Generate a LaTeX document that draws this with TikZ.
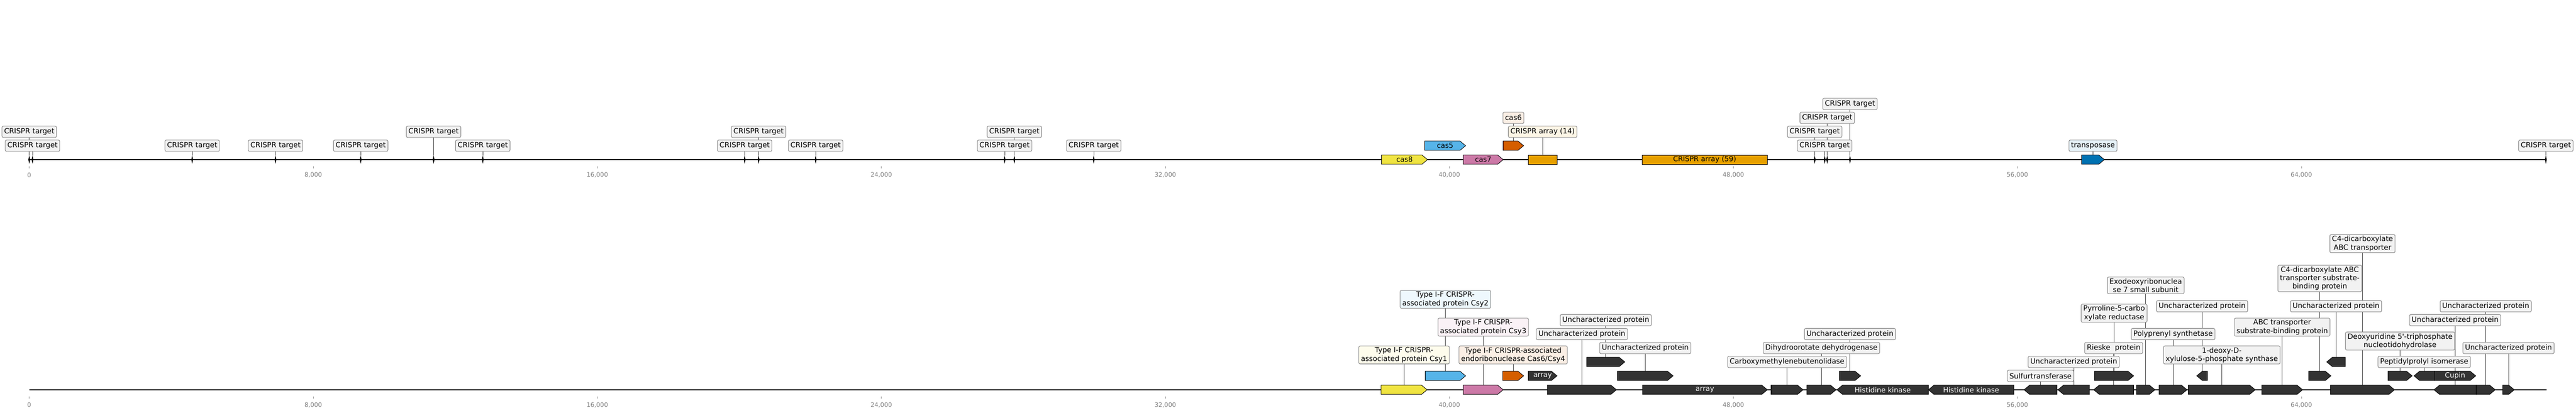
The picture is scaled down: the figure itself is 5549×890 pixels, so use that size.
\documentclass[tikz,border=0pt]{standalone}
\usepackage{fontspec}
\setmainfont{DejaVu Sans}
\usetikzlibrary{backgrounds}
\definecolor{casyellow}{HTML}{F0E442}
\definecolor{cassky}{HTML}{56B4E9}
\definecolor{caspink}{HTML}{CC79A7}
\definecolor{casverm}{HTML}{D55E00}
\definecolor{casorange}{HTML}{E69F00}
\definecolor{casblue}{HTML}{0072B2}
\definecolor{genedark}{HTML}{333333}
\definecolor{boxgray}{HTML}{F2F2F2}
\tikzset{
    box_node/.style = {draw=black!45, line width=0.6pt, rounded corners=1.5pt, fill=#1, inner xsep=2.3pt, inner ysep=1.5pt, align=center, minimum height=12.2pt, font=\fontsize{7.75}{9}\selectfont},
    box_node/.default = boxgray,
    gene/.style = {draw=black, line width=0.5pt},
    gene_text/.style = {inner sep=0pt, font=\fontsize{7.6}{9}\selectfont},
    white_text/.style = {gene_text, text=white},
    link/.style = {draw=black!75, line width=0.45pt},
    axis_line/.style = {line width=1pt},
    tick_mark/.style = {draw=black!45, line width=0.4pt},
    tick_text/.style = {text=black!50, inner sep=0pt, font=\fontsize{6.6}{7}\selectfont}
}
% gene arrows: name, start, end, level y, fill
\newcommand{\fwdgene}[5]{%
    \draw[gene, fill=#5] (#2,{#4-10}) -- ({#3-12},{#4-10}) -- (#3,#4) -- ({#3-12},{#4+10}) -- (#2,{#4+10}) -- cycle;
    \coordinate (#1) at ({(#2+#3)/2},{#4-10});
    \coordinate (#1_c) at ({(#2+#3)/2},#4);}
\newcommand{\revgene}[5]{%
    \draw[gene, fill=#5] (#3,{#4-10}) -- ({#2+12},{#4-10}) -- (#2,#4) -- ({#2+12},{#4+10}) -- (#3,{#4+10}) -- cycle;
    \coordinate (#1) at ({(#2+#3)/2},{#4-10});
    \coordinate (#1_c) at ({(#2+#3)/2},#4);}
\newcommand{\blockgene}[5]{%
    \draw[gene, fill=#5] (#2,{#4-10}) rectangle (#3,{#4+10});
    \coordinate (#1) at ({(#2+#3)/2},{#4-10});
    \coordinate (#1_c) at ({(#2+#3)/2},#4);}
\newcommand{\crisprmark}[2]{%
    \fill (#2,335) -- ({#2+2},344) -- (#2,353) -- ({#2-2},344) -- cycle;
    \coordinate (#1) at (#2,335);}

\begin{document}
\begin{tikzpicture}[x=0.5pt, y=-0.5pt]
\useasboundingbox (0,0) rectangle (5549,890);

% axes and ruler
\draw[axis_line] (63,344) -- (5484,344);
\draw[axis_line] (63,840) -- (5486,840);
\foreach \i/\t in {0/0, 1/{8,000}, 2/{16,000}, 3/{24,000}, 4/{32,000}, 5/{40,000}, 6/{48,000}, 7/{56,000}, 8/{64,000}} {
    \draw[tick_mark] ({63+611.8*\i},358) -- ++(0,5);
    \node[tick_text] (ta\i) at ({63+611.8*\i},377) {\t};
    \draw[tick_mark] ({63+611.8*\i},854) -- ++(0,5);
    \node[tick_text] (tb\i) at ({63+611.8*\i},873) {\t};
}

% top track
\foreach \x/\y [count=\n] in {63/284, 70/314, 414/314, 593.5/314, 777/314, 934/284, 1040/314, 1604/314, 1634/284, 1757/314, 2164/314, 2185/284, 2356/314, 3909/284, 3930.5/314, 3936/254, 3985/224, 5484/314} {
    \crisprmark{tg\n}{\x}
    \node[box_node] (tl\n) at (\x,\y) {CRISPR target};
    \begin{scope}[on background layer]
        \draw[link] (tg\n) -- (tg\n |- tl\n.south);
    \end{scope}
}
\fwdgene{cas8}{2976}{3075}{344}{casyellow}
\node[gene_text] (cas8_t) at (cas8_c) {cas8};
\fwdgene{cas5}{3069}{3157}{314}{cassky}
\node[gene_text] (cas5_t) at (cas5_c) {cas5};
\fwdgene{cas7}{3152}{3238}{344}{caspink}
\node[gene_text] (cas7_t) at (cas7_c) {cas7};
\fwdgene{cas6}{3238}{3282}{314}{casverm}
\blockgene{arr14}{3292}{3354}{344}{casorange}
\blockgene{arr59}{3537}{3807}{344}{casorange}
\node[gene_text] (arr59_t) at (arr59_c) {CRISPR array (59)};
\fwdgene{tnp}{4484}{4533}{344}{casblue}
\node[box_node=casverm!10] (cas6_l) at (cas6 |- 0,254) {cas6};
\node[box_node=casorange!10] (arr14_l) at (arr14 |- 0,284) {CRISPR array (14)};
\node[box_node=casblue!10] (tnp_l) at (tnp |- 0,314) {transposase};

% bottom track
\fwdgene{g1}{2975}{3074}{840}{casyellow}
\fwdgene{g2}{3070}{3157}{810}{cassky}
\fwdgene{g3}{3152}{3238}{840}{caspink}
\fwdgene{g4}{3237}{3282}{810}{casverm}
\fwdgene{g5}{3292}{3354}{810}{genedark}
\node[white_text] (g5_t) at (g5_c) {array};
\fwdgene{g6}{3333}{3482}{840}{genedark}
\fwdgene{g7}{3418}{3500}{780}{genedark}
\fwdgene{g8}{3484}{3604}{810}{genedark}
\fwdgene{g9}{3538}{3807}{840}{genedark}
\node[white_text] (g9_t) at (g9_c) {array};
\fwdgene{g10}{3815}{3884}{840}{genedark}
\fwdgene{g11}{3892}{3955}{840}{genedark}
\fwdgene{g12}{3962}{4008}{810}{genedark}
\revgene{g13}{3957}{4154}{840}{genedark}
\node[white_text] (g13_t) at (g13_c) {Histidine kinase};
\revgene{g14}{4154}{4338}{840}{genedark}
\node[white_text] (g14_t) at (g14_c) {Histidine kinase};
\revgene{g15}{4360}{4431}{840}{genedark}
\revgene{g16}{4433}{4501}{840}{genedark}
\revgene{g17}{4510}{4596}{840}{genedark}
\fwdgene{g18}{4512}{4596}{810}{genedark}
\fwdgene{g19}{4602}{4642}{840}{genedark}
\fwdgene{g20}{4651}{4711}{840}{genedark}
\revgene{g21}{4732}{4755}{810}{genedark}
\fwdgene{g22}{4714}{4858}{840}{genedark}
\fwdgene{g23}{4872}{4960}{840}{genedark}
\fwdgene{g24}{4973}{5021}{810}{genedark}
\revgene{g25}{5012}{5052}{780}{genedark}
\fwdgene{g26}{5020}{5158}{840}{genedark}
\fwdgene{g27}{5144}{5196}{810}{genedark}
\revgene{g28}{5200}{5244}{810}{genedark}
\fwdgene{g29}{5244}{5333}{810}{genedark}
\node[white_text] (g29_t) at (g29_c) {Cupin};
\revgene{g30}{5243}{5334}{840}{genedark}
\fwdgene{g31}{5334}{5375}{840}{genedark}
\fwdgene{g32}{5391}{5416}{840}{genedark}

\node[box_node=casyellow!10] (l1) at (g1 |- 0,765) {Type I-F CRISPR-\\associated protein Csy1};
\node[box_node=cassky!10] (l2) at (g2 |- 0,645) {Type I-F CRISPR-\\associated protein Csy2};
\node[box_node=caspink!10] (l3) at (g3 |- 0,705) {Type I-F CRISPR-\\associated protein Csy3};
\node[box_node=casverm!10] (l4) at (g4 |- 0,765) {Type I-F CRISPR-associated\\endoribonuclease Cas6/Csy4};
\node[box_node] (l6) at (g6 |- 0,720) {Uncharacterized protein};
\node[box_node] (l7) at (g7 |- 0,690) {Uncharacterized protein};
\node[box_node] (l8) at (g8 |- 0,750) {Uncharacterized protein};
\node[box_node] (l10) at (g10 |- 0,780) {Carboxymethylenebutenolidase};
\node[box_node] (l11) at (g11 |- 0,750) {Dihydroorotate dehydrogenase};
\node[box_node] (l12) at (g12 |- 0,720) {Uncharacterized protein};
\node[box_node] (l15) at (g15 |- 0,810) {Sulfurtransferase};
\node[box_node] (l16) at (g16 |- 0,780) {Uncharacterized protein};
\node[box_node] (l17) at (g17 |- 0,750) {Rieske\ \ protein};
\node[box_node] (l18) at (g18 |- 0,675) {Pyrroline-5-carbo\\xylate reductase};
\node[box_node] (l19) at (g19 |- 0,615) {Exodeoxyribonuclea\\se 7 small subunit};
\node[box_node] (l20) at (g20 |- 0,720) {Polyprenyl synthetase};
\node[box_node] (l21) at (g21 |- 0,660) {Uncharacterized protein};
\node[box_node] (l22) at (g22 |- 0,765) {1-deoxy-D-\\xylulose-5-phosphate synthase};
\node[box_node] (l23) at (g23 |- 0,705) {ABC transporter\\substrate-binding protein};
\node[box_node] (l24) at (g24 |- 0,600) {C4-dicarboxylate ABC\\transporter substrate-\\binding protein};
\node[box_node] (l25) at (g25 |- 0,660) {Uncharacterized protein};
\node[box_node] (l26) at (g26 |- 0,525) {C4-dicarboxylate\\ABC transporter};
\node[box_node] (l27) at (g27 |- 0,735) {Deoxyuridine 5\textquotesingle-triphosphate\\nucleotidohydrolase};
\node[box_node] (l28) at (g28 |- 0,780) {Peptidylprolyl isomerase};
\node[box_node] (l30) at (g30 |- 0,690) {Uncharacterized protein};
\node[box_node] (l31) at (g31 |- 0,660) {Uncharacterized protein};
\node[box_node] (l32) at (g32 |- 0,750) {Uncharacterized protein};

% leader lines, behind boxes and genes
\begin{scope}[on background layer]
    \draw[link] (cas6) -- (cas6 |- cas6_l.south);
    \draw[link] (arr14) -- (arr14 |- arr14_l.south);
    \draw[link] (tnp) -- (tnp |- tnp_l.south);
    \foreach \k in {1,2,3,4,6,7,8,10,11,12,15,16,17,18,19,20,21,22,23,24,25,26,27,28,30,31,32} {
        \draw[link] (g\k) -- (g\k |- l\k.south);
    }
\end{scope}
\end{tikzpicture}
\end{document}
